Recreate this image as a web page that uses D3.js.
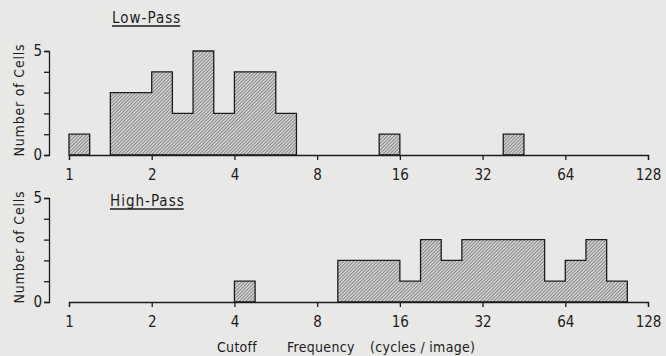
<!DOCTYPE html>
<html>
<head>
<meta charset="utf-8">
<script src="https://cdn.jsdelivr.net/npm/d3@7"></script>
<style>
  html, body { margin: 0; padding: 0; background: #e8e8e6; }
  svg { display: block; }
  text { font-family: "DejaVu Sans Condensed", "Liberation Sans Narrow", sans-serif; fill: #1c1c1c; }
</style>
</head>
<body>
<svg id="chart" width="666" height="356"></svg>
<script>
// Quarter-octave bins from 1 to 128 cycles/image (28 bins)
const binEdgesOctaves = d3.range(0, 7.01, 0.25);         // bin edges in octaves above 1 c/img
const lowPassCounts  = [1,0,3,3,4,2,5,2,4,4,2,0,0,0,0,1,0,0,0,0,0,1,0,0,0,0,0,0];
const highPassCounts = [0,0,0,0,0,0,0,0,1,0,0,0,0,2,2,2,1,3,2,3,3,3,3,1,2,3,1,0];
const xTickValues = [1, 2, 4, 8, 16, 32, 64, 128];
const yTickValues = [0, 1, 2, 3, 4, 5];
const yTickLabels = ["0", "", "", "", "", "5"];
const panelTitles = ["Low-Pass", "High-Pass"];
const yAxisTitle = "Number of Cells";
const xAxisTitle = ["Cutoff", "Frequency", "(cycles / image)"];

const svg = d3.select("#chart");
const ink = "#1c1c1c";

// hatch pattern
const defs = svg.append("defs");
const pat = defs.append("pattern")
  .attr("id", "hatch").attr("patternUnits", "userSpaceOnUse")
  .attr("width", 2.4).attr("height", 10)
  .attr("patternTransform", "rotate(45)");
pat.append("rect").attr("width", 2.4).attr("height", 10).attr("fill", "#dcdcda");
pat.append("line").attr("x1", 0.6).attr("x2", 0.6).attr("y1", 0).attr("y2", 10)
  .attr("stroke", "#505050").attr("stroke-width", 0.75);

const x = d3.scaleLog().base(2).domain([1, 128]).range([69, 648]);

const panels = [
  { counts: lowPassCounts,  y: d3.scaleLinear().domain([0, 5]).range([155, 51]),
    title: panelTitles[0], titleX: 112, titleY: 23 },
  { counts: highPassCounts, y: d3.scaleLinear().domain([0, 5]).range([302, 198]),
    title: panelTitles[1], titleX: 110, titleY: 206 }
];

panels.forEach(p => {
  const g = svg.append("g");
  const bins = p.counts.map((c, i) => ({
    x0: Math.pow(2, binEdgesOctaves[i]), x1: Math.pow(2, binEdgesOctaves[i + 1]), c
  }));

  // closed step outline for each contiguous run, hatched
  let path = d3.path();
  let prev = 0;
  bins.forEach((b, i) => {
    if (b.c > 0 && prev === 0) path.moveTo(x(b.x0), p.y(0));
    if (b.c > 0) { path.lineTo(x(b.x0), p.y(b.c)); path.lineTo(x(b.x1), p.y(b.c)); }
    if (b.c === 0 && prev > 0) { path.lineTo(x(b.x0), p.y(0)); path.closePath(); }
    prev = b.c;
  });
  if (prev > 0) { path.lineTo(x(bins[bins.length - 1].x1), p.y(0)); path.closePath(); }
  g.append("path").attr("d", path.toString()).attr("fill", "url(#hatch)")
    .attr("stroke", ink).attr("stroke-width", 1.3).attr("stroke-linejoin", "miter");

  // x axis
  const xa = g.append("g").attr("transform", `translate(0,${p.y(0)})`)
    .call(d3.axisBottom(x).tickValues(xTickValues).tickFormat(d3.format("d"))
      .tickSize(5).tickSizeOuter(5).tickPadding(9));
  xa.selectAll("path, line").attr("stroke", ink).attr("stroke-width", 1.3);
  xa.selectAll("text").style("font-size", "15px").attr("fill", ink);

  // y axis
  const ya = g.append("g").attr("transform", "translate(49,0)")
    .call(d3.axisLeft(p.y).tickValues(yTickValues).tickFormat((d, i) => yTickLabels[i])
      .tickSize(5).tickSizeOuter(5).tickPadding(2));
  ya.selectAll("path, line").attr("stroke", ink).attr("stroke-width", 1.3);
  ya.selectAll("text").style("font-size", "15px").attr("fill", ink);

  // y title
  g.append("text")
    .attr("transform", `translate(24,${(p.y(0) + p.y(5)) / 2 - 3}) rotate(-90)`)
    .attr("text-anchor", "middle")
    .style("font-size", "14px").style("letter-spacing", "0.8px")
    .text(yAxisTitle);

  // panel title, underlined
  const t = g.append("text").attr("x", p.titleX).attr("y", p.titleY)
    .style("font-size", "15px").style("letter-spacing", "1px").text(p.title);
  const w = t.node().getComputedTextLength();
  g.append("line").attr("x1", p.titleX).attr("x2", p.titleX + w - 1)
    .attr("y1", p.titleY + 3).attr("y2", p.titleY + 3)
    .attr("stroke", ink).attr("stroke-width", 1.3);
});

// x title
const xt = [217, 287, 370];
xAxisTitle.forEach((s, i) => {
  svg.append("text").attr("x", xt[i]).attr("y", 352)
    .style("font-size", "14px").style("letter-spacing", "0.3px").text(s);
});
</script>
</body>
</html>
